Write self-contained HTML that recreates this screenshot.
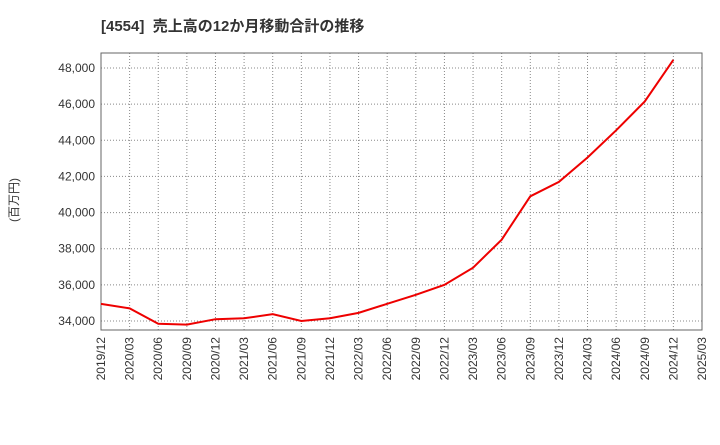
<!DOCTYPE html>
<html><head><meta charset="utf-8"><style>
body{margin:0;background:#fff;font-family:"Liberation Sans","Noto Sans CJK JP",sans-serif}
</style></head><body>
<svg id="c" width="720" height="440" xmlns="http://www.w3.org/2000/svg">
<text x="101" y="31" font-size="15" font-weight="bold" fill="#333" font-family="Liberation Sans, Noto Sans CJK JP, sans-serif">[4554]&#160; 売上高の12か月移動合計の推移</text>
<text transform="translate(18,200) rotate(-90)" text-anchor="middle" font-size="12" fill="#333" font-family="Liberation Sans, Noto Sans CJK JP, sans-serif">(百万円)</text>
<g id="grid"></g><g id="ticks"></g>
<rect x="101" y="53" width="601" height="277" fill="none" stroke="#666" stroke-width="1"/>
<polyline id="line" fill="none" stroke="#ee0000" stroke-width="2"/>
</svg>
<script>
const categories=["2019/12","2020/03","2020/06","2020/09","2020/12","2021/03","2021/06","2021/09","2021/12","2022/03","2022/06","2022/09","2022/12","2023/03","2023/06","2023/09","2023/12","2024/03","2024/06","2024/09","2024/12","2025/03"];
const values=[34950,34700,33850,33800,34100,34150,34380,34000,34150,34450,34950,35450,36000,36950,38500,40900,41700,43050,44550,46150,48450];
const yTicks=[34000,36000,38000,40000,42000,44000,46000,48000];
const X0=101,X1=702,Y0=330,Y1=53,YMIN=33502,YMAX=48830;
const x=i=>X0+(X1-X0)*i/(categories.length-1);
const y=v=>Y0-(v-YMIN)/(YMAX-YMIN)*(Y0-Y1);
const NS="http://www.w3.org/2000/svg";
const g=document.getElementById('grid'),t=document.getElementById('ticks');
function mk(tag,a,p){const e=document.createElementNS(NS,tag);for(const k in a)e.setAttribute(k,a[k]);p.appendChild(e);return e;}
yTicks.forEach(v=>{
const l=mk('line',{x1:X0,x2:X1,y1:y(v),y2:y(v),stroke:'#888','stroke-dasharray':'1,2'},g);


const tx=mk('text',{x:X0-6,y:y(v)+4,'text-anchor':'end','font-size':'12',fill:'#333'},t);
tx.textContent=v.toLocaleString('en-US');


});
categories.forEach((c,i)=>{
const l=mk('line',{x1:x(i),x2:x(i),y1:Y1,y2:Y0,stroke:'#888','stroke-dasharray':'1,2'},g);


const tx=mk('text',{transform:`translate(${x(i)+4},337) rotate(-90)`,'text-anchor':'end','font-size':'12',fill:'#333'},t);
tx.textContent=c;


});
document.getElementById('line').setAttribute('points',values.map((v,i)=>x(i)+','+y(v)).join(' '));
</script>
</body></html>
